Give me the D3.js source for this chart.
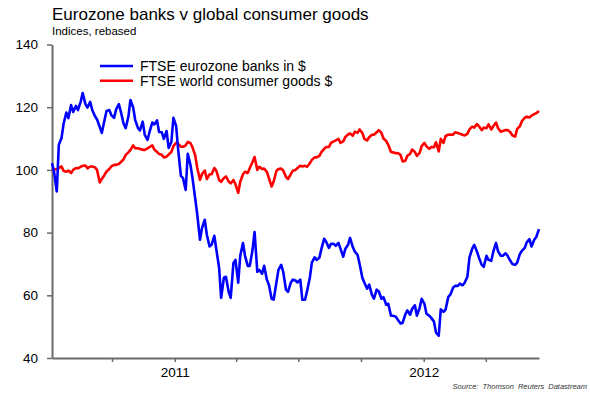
<!DOCTYPE html>
<html>
<head>
<meta charset="utf-8">
<script src="https://cdn.jsdelivr.net/npm/d3@7"></script>
<style>
  body { margin: 0; background: #fff; }
  svg { display: block; font-family: Arial, "Liberation Sans", sans-serif; }
</style>
</head>
<body>
<div id="chart"></div>
<script>
// readings twice a week (Mon / Thu), first on 5 Jul 2010
const startDate = "2010-07-05";
const seriesNames = ["FTSE eurozone banks in $", "FTSE world consumer goods $"];
const seriesColors = ["#0000ff", "#ff0000"];

const banks = [
  102.1, 99.4, 93.1, 108.0, 110.2, 114.7, 118.3, 116.5, 120.7, 118.5,
  120.4, 119.1, 121.7, 124.5, 121.0, 119.9, 121.7, 119.1, 117.1, 116.1,
  113.7, 111.8, 115.9, 118.8, 119.1, 117.5, 116.6, 119.3, 121.0, 118.5,
  114.7, 113.3, 117.0, 122.3, 119.9, 115.9, 113.4, 112.6, 115.4, 111.2,
  109.6, 112.1, 115.1, 114.5, 115.8, 112.1, 112.0, 109.9, 112.4, 107.0,
  108.9, 116.6, 114.0, 106.4, 98.1, 97.4, 93.6, 105.1, 101.6, 97.4,
  90.8, 85.7, 77.7, 81.5, 84.1, 79.3, 75.6, 76.1, 79.0, 74.5,
  68.8, 59.2, 65.6, 65.9, 61.1, 59.2, 70.3, 71.3, 64.0, 72.6,
  76.7, 72.6, 69.4, 69.4, 74.5, 80.2, 67.5, 68.1, 66.9, 69.4,
  65.0, 63.4, 58.9, 58.6, 64.1, 68.1, 69.7, 67.5, 61.8, 61.1,
  64.0, 65.0, 64.7, 64.1, 65.0, 58.6, 58.6, 61.4, 65.6, 70.4,
  72.1, 71.3, 72.0, 74.8, 78.0, 77.1, 75.1, 76.4, 76.4, 75.8,
  76.7, 74.8, 72.3, 74.8, 76.1, 78.3, 75.4, 73.9, 72.9, 70.0,
  65.6, 64.0, 62.1, 63.4, 60.2, 58.9, 61.8, 61.3, 58.9, 59.4,
  57.0, 57.3, 53.5, 53.5, 53.2, 52.2, 51.0, 51.2, 53.9, 55.2,
  53.8, 55.7, 56.8, 53.5, 56.0, 58.9, 57.3, 54.1, 53.5, 52.8,
  51.6, 48.1, 47.1, 55.5, 54.7, 55.4, 59.5, 60.2, 62.4, 63.0,
  63.0, 63.7, 63.2, 64.0, 65.9, 72.0, 74.8, 76.1, 74.0, 72.0,
  69.7, 69.1, 72.6, 71.3, 71.0, 73.9, 76.7, 74.0, 72.6, 72.6,
  73.4, 72.6, 71.0, 70.0, 69.7, 70.4, 73.2, 74.2, 75.1, 76.9,
  77.9, 75.6, 77.7, 78.6, 81.1
];

const goods = [
  100.5, 100.2, 100.2, 100.6, 101.1, 99.7, 99.4, 99.8, 99.0, 100.0,
  100.6, 100.5, 101.0, 101.3, 101.4, 100.5, 101.1, 101.1, 100.8, 100.0,
  96.0, 97.1, 98.4, 99.5, 100.3, 101.1, 101.6, 101.6, 101.9, 102.5,
  103.4, 104.8, 105.6, 106.4, 107.8, 106.9, 106.9, 106.7, 106.4, 106.4,
  106.9, 107.3, 107.8, 106.5, 105.7, 105.1, 104.8, 104.0, 104.2, 104.9,
  105.7, 107.6, 108.6, 108.3, 107.4, 107.4, 107.8, 108.9, 108.6, 107.2,
  104.6, 100.6, 96.8, 98.7, 99.8, 97.1, 98.6, 98.6, 100.6, 99.7,
  96.8, 96.2, 97.4, 97.9, 96.3, 95.7, 96.8, 95.4, 92.7, 96.2,
  98.6, 99.4, 99.0, 100.6, 102.5, 104.1, 100.0, 101.0, 100.3, 100.4,
  99.4, 97.4, 94.7, 96.3, 99.7, 100.3, 100.4, 99.8, 97.8, 97.1,
  98.6, 99.7, 100.0, 100.6, 101.3, 101.1, 101.3, 101.0, 102.1, 103.2,
  104.0, 104.0, 104.5, 105.7, 106.7, 107.3, 107.3, 108.6, 109.1, 109.4,
  109.9, 108.6, 109.1, 110.5, 111.3, 111.6, 110.9, 112.2, 111.8, 112.9,
  111.8, 109.9, 109.4, 110.4, 111.2, 111.2, 112.0, 112.7, 111.8, 110.0,
  109.2, 108.0, 105.7, 105.6, 105.3, 105.4, 104.8, 102.7, 102.9, 104.5,
  105.1, 106.5, 105.7, 104.5, 105.4, 107.6, 108.6, 107.5, 106.7, 107.3,
  107.2, 108.8, 105.9, 109.9, 108.6, 110.8, 111.2, 111.3, 111.2, 112.0,
  111.8, 111.5, 111.2, 111.0, 111.5, 112.9, 113.8, 113.5, 114.6, 113.9,
  112.7, 113.5, 113.3, 114.5, 112.9, 113.9, 115.1, 113.3, 112.2, 112.4,
  112.7, 112.7, 112.0, 111.0, 110.6, 113.1, 113.9, 115.6, 116.6, 117.0,
  116.7, 117.3, 117.8, 118.1, 118.8
];

const yTicks = [40, 60, 80, 100, 120, 140];

const width = 590, height = 393;
const plot = { left: 52, right: 539, top: 44.5, bottom: 358 };

const start = d3.timeParse("%Y-%m-%d")(startDate);
const dates = banks.map((d, i) => d3.timeDay.offset(start, Math.floor(i / 2) * 7 + (i % 2) * 3));

const svg = d3.select("#chart").append("svg")
    .attr("width", width)
    .attr("height", height);

svg.append("rect").attr("width", width).attr("height", height).attr("fill", "#fff");

const x = d3.scaleTime()
    .domain(d3.extent(dates))
    .range([plot.left, plot.right]);

const y = d3.scaleLinear()
    .domain([40, 140])
    .range([plot.bottom, plot.top]);

// titles
svg.append("text")
    .attr("x", 52).attr("y", 20)
    .style("font-size", "17px")
    .attr("fill", "#000")
    .text("Eurozone banks v global consumer goods");

svg.append("text")
    .attr("x", 52).attr("y", 35)
    .style("font-size", "11.5px")
    .attr("fill", "#000")
    .text("Indices, rebased");

// y axis
const yAxis = svg.append("g")
    .attr("transform", `translate(${plot.left},0)`)
    .call(d3.axisLeft(y).tickValues(yTicks).tickSize(5).tickPadding(9).tickSizeOuter(0));

// x axis, quarterly ticks, year labels in January
const xAxis = svg.append("g")
    .attr("transform", `translate(0,${plot.bottom})`)
    .call(d3.axisBottom(x)
        .ticks(d3.timeMonth.every(3))
        .tickSize(4)
        .tickPadding(5)
        .tickSizeOuter(0)
        .tickFormat(d => d.getMonth() === 0 ? d3.timeFormat("%Y")(d) : ""));

[yAxis, xAxis].forEach(g => {
    g.select(".domain").attr("stroke", "#6a6a6a").attr("stroke-width", 2);
    g.selectAll(".tick line").attr("stroke", "#6a6a6a").attr("stroke-width", 1.5);
    g.selectAll(".tick text")
        .attr("fill", "#000")
        .style("font-size", "13.5px")
        .style("font-family", "Arial, 'Liberation Sans', sans-serif");
});

// lines
const line = d3.line()
    .x((d, i) => x(dates[i]))
    .y(d => y(d));

[goods, banks].forEach((s, k) => {
    svg.append("path")
        .datum(s)
        .attr("fill", "none")
        .attr("stroke", k === 0 ? seriesColors[1] : seriesColors[0])
        .attr("stroke-width", 2.6)
        .attr("stroke-linejoin", "round")
        .attr("d", line);
});

// legend
const legend = svg.selectAll(".legend")
    .data(seriesNames)
    .enter()
    .append("g")
    .attr("class", "legend")
    .attr("transform", (d, i) => `translate(100,${66 + i * 14.7})`);

legend.append("line")
    .attr("x1", 0).attr("x2", 33)
    .attr("stroke", (d, i) => seriesColors[i])
    .attr("stroke-width", 2.6);

legend.append("text")
    .attr("x", 40).attr("y", 5)
    .style("font-size", "14px")
    .attr("fill", "#000")
    .text(d => d);

// source
svg.append("text")
    .attr("x", 587).attr("y", 389)
    .attr("text-anchor", "end")
    .style("font-size", "7.5px")
    .style("font-style", "italic")
    .style("word-spacing", "2px")
    .attr("fill", "#333")
    .text("Source: Thomson Reuters Datastream");
</script>
</body>
</html>
